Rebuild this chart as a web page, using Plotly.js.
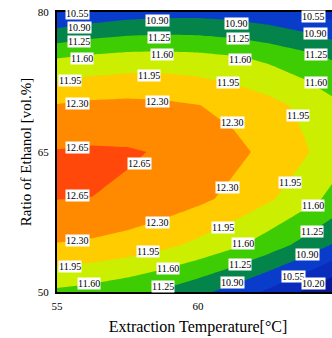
<!DOCTYPE html>
<html>
<head>
<meta charset="utf-8">
<script src="https://cdn.plot.ly/plotly-3.0.1.min.js"></script>
<style>
html,body{margin:0;padding:0;overflow:hidden;background:#fff;}
#chart{width:345px;height:338px;}
</style>
</head>
<body>
<div id="chart"></div>
<script>
// Extraction temperature (°C) grid
var temperature = [55, 56.25, 57.5, 58.75, 60, 61.25, 62.5, 63.75, 65];
// Ratio of ethanol (vol.%) grid
var ethanol = [50, 55, 60, 65, 70, 75, 80];
// Response values (rows follow ethanol)
var yieldE50 = [11.535, 11.461, 11.347, 11.192, 10.996, 10.760, 10.482, 10.165, 9.806];
var yieldE55 = [12.278, 12.237, 12.156, 12.034, 11.871, 11.668, 11.423, 11.139, 10.813];
var yieldE60 = [12.656, 12.648, 12.600, 12.511, 12.381, 12.211, 11.999, 11.748, 11.455];
var yieldE65 = [12.670, 12.695, 12.680, 12.624, 12.527, 12.390, 12.211, 11.993, 11.733];
var yieldE70 = [12.320, 12.378, 12.396, 12.372, 12.308, 12.205, 12.058, 11.873, 11.647];
var yieldE75 = [11.604, 11.695, 11.746, 11.756, 11.725, 11.655, 11.541, 11.389, 11.195];
var yieldE80 = [10.525, 10.649, 10.733, 10.776, 10.778, 10.740, 10.660, 10.541, 10.380];
var zGrid = [yieldE50, yieldE55, yieldE60, yieldE65, yieldE70, yieldE75, yieldE80];

// Contour levels
var levelStart = 10.20, levelEnd = 12.65, levelStep = 0.35;

// Axis ticks
var xTicks = [55, 60];
var yTicks = [50, 65, 80];

// Contour label texts and where they sit (data coordinates)
var labelText = ["10.55","10.55","10.90","10.90","10.90","10.90","11.25","11.25","11.25","11.25",
  "11.60","11.60","11.60","11.60","11.95","11.95","11.95","11.95","12.30","12.30","12.30",
  "12.65","12.65","12.65","12.30","12.30","12.30","11.95","11.95","11.95","11.95",
  "11.60","11.60","11.60","11.60","11.25","11.25","11.25","10.90","10.90","10.55","10.20"];
var labelT = [55.71,64.08,55.78,58.58,61.38,64.15,55.78,58.62,61.42,64.18,
  55.89,58.72,61.49,64.18,55.46,58.26,61.06,63.55,55.74,58.55,61.24,
  55.71,57.94,55.71,61.03,58.55,55.74,63.26,60.89,58.23,55.46,
  64.08,61.60,58.94,56.13,64.04,61.49,58.76,63.87,61.24,63.37,64.08];
var labelE = [79.79,79.57,78.29,79.04,78.82,77.75,76.79,77.32,77.11,75.50,
  75.07,75.50,74.96,72.50,72.71,73.25,72.50,68.96,70.25,70.46,68.11,
  65.43,63.82,60.39,61.25,57.50,55.57,61.68,56.96,54.29,52.68,
  59.32,55.25,52.57,50.96,56.43,53.00,50.64,54.07,51.07,51.71,50.96];

var bandColors = ['#0a1898','#0a2cbc','#0a3ccc','#04844a','#3ecc02','#ccee00','#ffcc00','#ff8a00','#ff480a'];
var colorscale = bandColors.map(function(c, i){ return [i/(bandColors.length-1), c]; });

var trace = {
  type: 'contour',
  x: temperature,
  y: ethanol,
  z: zGrid,
  colorscale: colorscale,
  showscale: false,
  autocontour: false,
  contours: {start: levelStart, end: levelEnd, size: levelStep, coloring: 'fill', showlines: false},
  line: {width: 0, smoothing: 0},
  hoverinfo: 'skip'
};

var annotations = labelText.map(function(t, i){
  return {x: labelT[i], y: labelE[i], xref: 'x', yref: 'y', text: t, showarrow: false,
    bgcolor: '#ffffff', borderpad: 0,
    font: {family: 'Liberation Serif', size: 10, color: '#000'}};
});

var layout = {
  width: 345, height: 338,
  margin: {l: 57, r: 6, t: 12, b: 46},
  paper_bgcolor: '#fff', plot_bgcolor: '#fff',
  font: {family: 'Liberation Serif', color: '#000'},
  showlegend: false,
  xaxis: {range: [55, 65], tickvals: xTicks, ticks: '', showgrid: false, zeroline: false,
    showline: true, linecolor: '#000', linewidth: 2, mirror: true,
    tickfont: {size: 11}, ticklabelstandoff: 3,
    title: {text: 'Extraction Temperature[°C]', font: {size: 16}, standoff: 10}},
  yaxis: {range: [50, 80], tickvals: yTicks, ticks: '', showgrid: false, zeroline: false,
    showline: true, linecolor: '#000', linewidth: 2, mirror: true,
    tickfont: {size: 11}, ticklabelstandoff: 4,
    title: {text: 'Ratio of Ethanol [vol.%]', font: {size: 15}, standoff: 3}},
  annotations: annotations
};

Plotly.newPlot('chart', [trace], layout, {displayModeBar: false, staticPlot: true});
</script>
</body>
</html>
